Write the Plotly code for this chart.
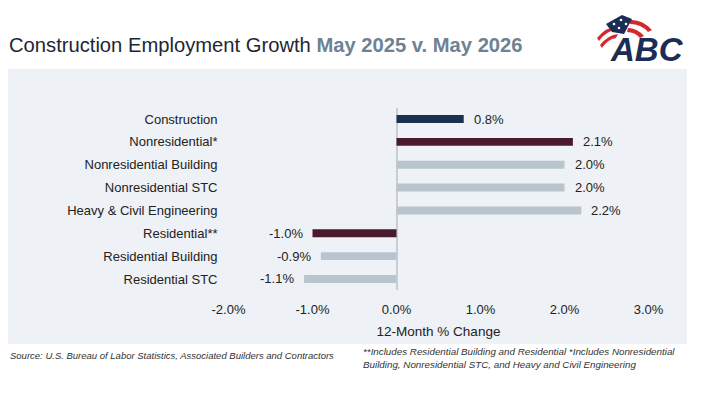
import plotly.graph_objects as go

W, H = 711, 400

categories = ["Construction", "Nonresidential*", "Nonresidential Building", "Nonresidential STC",
              "Heavy & Civil Engineering", "Residential**", "Residential Building", "Residential STC"]
values = [0.8, 2.1, 2.0, 2.0, 2.2, -1.0, -0.9, -1.1]
bar_colors = ["#1c3150", "#4a1a2c", "#b9c4cf", "#b9c4cf", "#b9c4cf", "#4a1a2c", "#b9c4cf", "#b9c4cf"]
tick_vals = [-2, -1, 0, 1, 2, 3]
tick_text = ["-2.0%", "-1.0%", "0.0%", "1.0%", "2.0%", "3.0%"]

FONT = "Liberation Sans, Arial, sans-serif"

def px_x(x):
    return x / W

def px_y(y):
    return 1 - y / H

def path(points, curve=None):
    return "M " + " L ".join(f"{px_x(a)},{px_y(b)}" for a, b in points) + " Z"

fig = go.Figure()
fig.add_trace(go.Bar(
    x=values, y=categories, orientation="h",
    marker=dict(color=bar_colors, line=dict(width=0)),
    width=0.35, hoverinfo="skip",
))

annotations = []
for c, v in zip(categories, values):
    annotations.append(dict(
        x=v, y=c, xref="x", yref="y", text=f"{v:.1f}%", showarrow=False,
        xanchor="left" if v >= 0 else "right", xshift=8 if v >= 0 else -8,
        font=dict(family=FONT, size=13, color="#222222"),
    ))

# Title
annotations.append(dict(
    x=px_x(7), y=px_y(45), xref="paper", yref="paper", xanchor="left", yanchor="middle",
    text="<span style='color:#1d2733'>Construction Employment Growth</span> "
         "<b><span style='color:#6e8292'>May 2025 v. May 2026</span></b>",
    showarrow=False, font=dict(family=FONT, size=20.2),
))
# Footer
annotations.append(dict(
    x=px_x(8), y=px_y(355), xref="paper", yref="paper", xanchor="left", yanchor="middle",
    text="<i>Source: U.S. Bureau of Labor Statistics, Associated Builders and Contractors</i>",
    showarrow=False, font=dict(family=FONT, size=9.5, color="#333333"),
))
annotations.append(dict(
    x=px_x(361), y=px_y(358), xref="paper", yref="paper", xanchor="left", yanchor="middle", align="left",
    text="<i>**Includes Residential Building and Residential *Includes Nonresidential<br>"
         "Building, Nonresidential STC, and Heavy and Civil Engineering</i>",
    showarrow=False, font=dict(family=FONT, size=9.8, color="#333333"),
))
# Logo text
annotations.append(dict(
    x=px_x(647), y=px_y(49), xref="paper", yref="paper", xanchor="center", yanchor="middle",
    text="<b><i>ABC</i></b>", showarrow=False,
    font=dict(family=FONT, size=33, color="#1c2d55"),
))

red = "#d42a2f"
navy = "#1c2d55"
shapes = [
    # panel background
    dict(type="rect", xref="paper", yref="paper", x0=px_x(8), x1=px_x(687), y0=px_y(344), y1=px_y(69),
         fillcolor="#eef1f5", line=dict(width=0), layer="below"),
    # logo: red stripes
    dict(type="path", xref="paper", yref="paper",
         path=f"M {px_x(597)},{px_y(38)} Q {px_x(606)},{px_y(27)} {px_x(618)},{px_y(26)} L {px_x(616)},{px_y(30)} Q {px_x(606)},{px_y(31)} {px_x(599)},{px_y(41)} Z",
         fillcolor=red, line=dict(width=0)),
    dict(type="path", xref="paper", yref="paper",
         path=f"M {px_x(600)},{px_y(45)} Q {px_x(608)},{px_y(35)} {px_x(618)},{px_y(34)} L {px_x(616)},{px_y(38)} Q {px_x(608)},{px_y(39)} {px_x(602)},{px_y(48)} Z",
         fillcolor=red, line=dict(width=0)),
    dict(type="path", xref="paper", yref="paper",
         path=f"M {px_x(630)},{px_y(20)} Q {px_x(642)},{px_y(19)} {px_x(652)},{px_y(30)} L {px_x(648)},{px_y(32)} Q {px_x(641)},{px_y(24)} {px_x(630)},{px_y(24)} Z",
         fillcolor=red, line=dict(width=0)),
    dict(type="path", xref="paper", yref="paper",
         path=f"M {px_x(628)},{px_y(28)} Q {px_x(637)},{px_y(28)} {px_x(644)},{px_y(36)} L {px_x(640)},{px_y(38)} Q {px_x(635)},{px_y(32)} {px_x(627)},{px_y(32)} Z",
         fillcolor=red, line=dict(width=0)),
    # logo: blue canton
    dict(type="path", xref="paper", yref="paper",
         path=path([(606, 24), (622, 15), (632, 19), (624, 34), (612, 32)]),
         fillcolor=navy, line=dict(width=0)),
]
# stars
for sx, sy in [(614, 24), (621, 20), (619, 28), (626, 24)]:
    shapes.append(dict(type="circle", xref="paper", yref="paper",
                       x0=px_x(sx - 1.3), x1=px_x(sx + 1.3), y0=px_y(sy + 1.3), y1=px_y(sy - 1.3),
                       fillcolor="white", line=dict(width=0)))

fig.update_layout(
    width=W, height=H, margin=dict(l=0, r=0, t=0, b=0, pad=0, autoexpand=False),
    paper_bgcolor="white", plot_bgcolor="rgba(0,0,0,0)",
    showlegend=False, bargap=0.65,
    annotations=annotations, shapes=shapes,
    font=dict(family=FONT, size=13, color="#222222"),
    xaxis=dict(
        domain=[px_x(228.5), px_x(648.5)], range=[-2, 3], automargin=False,
        tickvals=tick_vals, ticktext=tick_text, showgrid=False,
        zeroline=True, zerolinecolor="#c9ced4", zerolinewidth=1.5,
        showline=False, ticks="", ticklabelstandoff=10,
        tickfont=dict(family=FONT, size=13, color="#222222"),
        title=dict(text="12-Month % Change", standoff=10,
                   font=dict(family=FONT, size=13.5, color="#222222")),
        fixedrange=True,
    ),
    yaxis=dict(
        domain=[px_y(290.4), px_y(107.6)], range=[7.5, -0.5], automargin=False,
        categoryorder="array", categoryarray=categories,
        showgrid=False, zeroline=False, showline=False, ticks="",
        ticklabelstandoff=10,
        tickfont=dict(family=FONT, size=13, color="#222222"),
        fixedrange=True,
    ),
)

fig.write_html("out.html")
